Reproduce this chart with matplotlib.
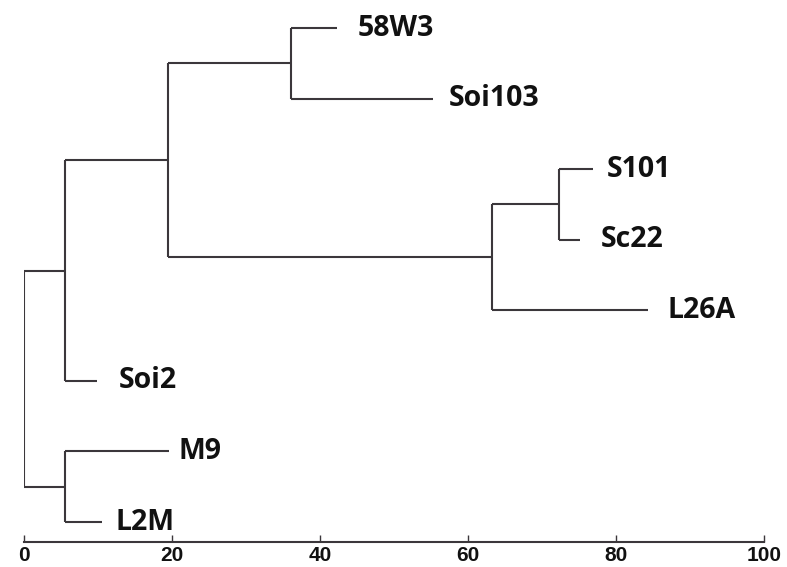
import matplotlib
matplotlib.use("Agg")
import matplotlib.pyplot as plt

# Leaves (top to bottom) and the x-distance at which each leaf branch ends
leaves = ["58W3", "Soi103", "S101", "Sc22", "L26A", "Soi2", "M9", "L2M"]
leaf_x = [42.3, 55.3, 76.9, 75.1, 84.3, 9.8, 19.6, 10.5]

# Internal nodes: name, x position (distance), children
node_names = ["n1", "n2", "n3", "n4", "n5", "n6", "root"]
node_x = [36.1, 72.3, 63.2, 19.5, 5.5, 5.5, 0.0]
node_children = [
    ("58W3", "Soi103"),
    ("S101", "Sc22"),
    ("n2", "L26A"),
    ("n1", "n3"),
    ("n4", "Soi2"),
    ("M9", "L2M"),
    ("n5", "n6"),
]

xticks = [0, 20, 40, 60, 80, 100]
xtick_labels = ["0", "20", "40", "60", "80", "100"]
# label offsets from branch end (points) as placed in the original
label_gap = [15, 11, 10, 15, 14, 16, 7, 10]

color = "#3b373b"
lw = 1.5

fig = plt.figure(figsize=(7.87, 5.67), dpi=100)
ax = fig.add_axes([24 / 787, 25 / 567, 740 / 787, 542 / 567])

pos = {}
xpos = {}
for i, (name, x) in enumerate(zip(leaves, leaf_x)):
    pos[name] = i
    xpos[name] = x
for name, x, ch in zip(node_names, node_x, node_children):
    ys = [pos[c] for c in ch]
    pos[name] = sum(ys) / len(ys)
    xpos[name] = x
    ax.plot([x, x], [min(ys), max(ys)], color=color, lw=lw, solid_capstyle="butt")
    for c in ch:
        ax.plot([x, xpos[c]], [pos[c], pos[c]], color=color, lw=lw,
                solid_capstyle="butt")

for i, name in enumerate(leaves):
    ax.annotate(name, (leaf_x[i], i), xytext=(label_gap[i], 0),
                textcoords="offset points", ha="left", va="center",
                fontsize=20.5, fontweight="bold", family="Open Sans",
                color="#111111")

ax.set_xlim(0, 100)
ax.set_ylim(7.283, -0.397)
for s in ["top", "right", "left"]:
    ax.spines[s].set_visible(False)
ax.spines["bottom"].set_color(color)
ax.spines["bottom"].set_linewidth(1.5)
ax.set_yticks([])
ax.set_xticks(xticks, labels=xtick_labels, fontsize=15, fontweight="bold",
              family="Liberation Sans", color="#111111")
ax.tick_params(axis="x", direction="in", length=5, width=1, color=color, pad=3)
ax.patch.set_visible(False)

fig.savefig("out.png", dpi=100)
